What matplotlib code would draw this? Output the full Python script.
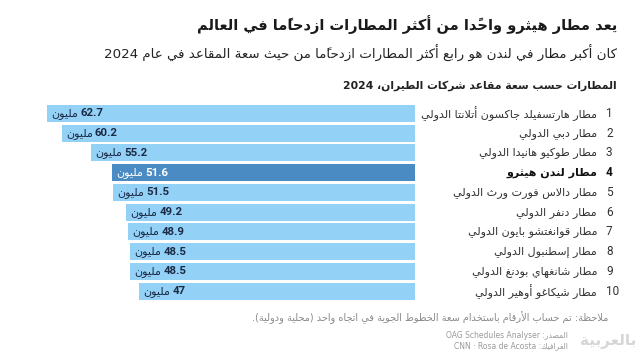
import re
import matplotlib
matplotlib.use('Agg')
import matplotlib.pyplot as plt
import matplotlib.transforms as mtransforms

plt.rcParams['font.family'] = ['DejaVu Sans']

# data
ranks = ['1', '2', '3', '4', '5', '6', '7', '8', '9', '10']
airports = ['مطار هارتسفيلد جاكسون أتلانتا الدولي', 'مطار دبي الدولي', 'مطار طوكيو هانيدا الدولي',
            'مطار لندن هيثرو', 'مطار دالاس فورت ورث الدولي', 'مطار دنفر الدولي',
            'مطار قوانغتشو بايون الدولي', 'مطار إسطنبول الدولي', 'مطار شانغهاي بودنغ الدولي',
            'مطار شيكاغو أوهير الدولي']
seats = [62.7, 60.2, 55.2, 51.6, 51.5, 49.2, 48.9, 48.5, 48.5, 47]
value_labels = ['62.7', '60.2', '55.2', '51.6', '51.5', '49.2', '48.9', '48.5', '48.5', '47']
highlight = 3

title = 'يعد مطار هيثرو واحدًا من أكثر المطارات ازدحامًا في العالم'
subtitle = 'كان أكبر مطار في لندن هو رابع أكثر المطارات ازدحامًا من حيث سعة المقاعد في عام 2024'
heading = 'المطارات حسب سعة مقاعد شركات الطيران، 2024'
note = 'ملاحظة: تم حساب الأرقام باستخدام سعة الخطوط الجوية في اتجاه واحد (محلية ودولية).'
source1 = 'المصدر: OAG Schedules Analyser'
source2 = 'الغرافيك: CNN · Rosa de Acosta'
unit = 'مليون'
logo = 'بالعربية'

# arabic shaping (no raqm in matplotlib): letter -> (first presentation form, number of forms)
AR = {'ء': (0xFE80, 1), 'آ': (0xFE81, 2), 'أ': (0xFE83, 2), 'ؤ': (0xFE85, 2), 'إ': (0xFE87, 2),
      'ئ': (0xFE89, 4), 'ا': (0xFE8D, 2), 'ب': (0xFE8F, 4), 'ة': (0xFE93, 2), 'ت': (0xFE95, 4),
      'ث': (0xFE99, 4), 'ج': (0xFE9D, 4), 'ح': (0xFEA1, 4), 'خ': (0xFEA5, 4), 'د': (0xFEA9, 2),
      'ذ': (0xFEAB, 2), 'ر': (0xFEAD, 2), 'ز': (0xFEAF, 2), 'س': (0xFEB1, 4), 'ش': (0xFEB5, 4),
      'ص': (0xFEB9, 4), 'ض': (0xFEBD, 4), 'ط': (0xFEC1, 4), 'ظ': (0xFEC5, 4), 'ع': (0xFEC9, 4),
      'غ': (0xFECD, 4), 'ف': (0xFED1, 4), 'ق': (0xFED5, 4), 'ك': (0xFED9, 4), 'ل': (0xFEDD, 4),
      'م': (0xFEE1, 4), 'ن': (0xFEE5, 4), 'ه': (0xFEE9, 4), 'و': (0xFEED, 2), 'ى': (0xFEEF, 2),
      'ي': (0xFEF1, 4)}
LAM_ALEF = {'آ': 0xFEF5, 'أ': 0xFEF7, 'إ': 0xFEF9, 'ا': 0xFEFB}
MIRROR = {'(': ')', ')': '('}


def is_mark(c):
    return 0x064B <= ord(c) <= 0x0652


def ar(s):
    # build items: [base, start, n, marks]
    items = []
    i = 0
    while i < len(s):
        c = s[i]
        if is_mark(c) and items:
            items[-1][3] += c
            i += 1
            continue
        if c == 'ل' and i + 1 < len(s) and s[i + 1] in LAM_ALEF:
            items.append([c, LAM_ALEF[s[i + 1]], 2, ''])
            i += 2
            continue
        if c in AR:
            items.append([c, AR[c][0], AR[c][1], ''])
        else:
            items.append([c, None, 0, ''])
        i += 1
    glyphs = []
    for k, (c, start, n, marks) in enumerate(items):
        if start is None:
            glyphs.append(MIRROR.get(c, c) + marks)
            continue
        prev = k > 0 and items[k - 1][2] == 4
        nxt = k + 1 < len(items) and items[k + 1][2] >= 2
        if n == 1:
            g = start
        elif n == 2:
            g = start + 1 if prev else start
        else:
            if prev and nxt:
                g = start + 3
            elif prev:
                g = start + 1
            elif nxt:
                g = start + 2
            else:
                g = start
        glyphs.append(chr(g) + marks)
    vis = ''.join(glyphs[::-1])
    return re.sub(r'[A-Za-z0-9][A-Za-z0-9 .·\-]*[A-Za-z0-9]|[A-Za-z0-9]',
                  lambda m: m.group(0)[::-1], vis)


light = '#93d1f7'
dark = '#4a8bc3'

fig = plt.figure(figsize=(6.4, 3.56), dpi=100)
fig.patch.set_facecolor('white')
ax = fig.add_axes([40 / 640, 1 - 300.9 / 356, 375 / 640, 197.3 / 356])

y = list(range(len(seats)))
colors = [dark if i == highlight else light for i in y]
ax.barh(y, seats, height=0.86, color=colors)
ax.set_xlim(63.9, 0)
ax.set_ylim(9.5, -0.5)
ax.axis('off')

for i, v in enumerate(seats):
    tc = 'white' if i == highlight else '#1b2a45'
    w = ax.annotate(ar(unit), xy=(v, i), xytext=(3, 0), textcoords='offset points',
                    ha='left', va='center', fontsize=8, color=tc)
    ax.annotate(value_labels[i], xy=(1, 0.5), xycoords=w, xytext=(1.5, 0),
                textcoords='offset points', ha='left', va='center',
                fontsize=8.2, fontweight='bold', family='Roboto', color=tc)

tr = mtransforms.blended_transform_factory(fig.transFigure, ax.transData)
for i, name in enumerate(airports):
    bold = 'bold' if i == highlight else 'normal'
    col = '#111111' if i == highlight else '#333333'
    ax.text(597 / 640, i, ar(name), transform=tr, ha='right', va='center',
            fontsize=8, fontweight=bold, color=col)
    ax.text(606 / 640, i, ranks[i], transform=tr, ha='left', va='center',
            fontsize=8.5, fontweight=bold, family='Roboto', color=col)

fig.text(617 / 640, 1 - 25 / 356, ar(title), ha='right', va='center', fontsize=10.5,
         fontweight='bold', color='#1a1a1a')
fig.text(617 / 640, 1 - 53 / 356, ar(subtitle), ha='right', va='center', fontsize=9.6,
         color='#222222')
fig.text(617 / 640, 1 - 86 / 356, ar(heading), ha='right', va='center', fontsize=7.8,
         fontweight='bold', color='#222222')
fig.text(608 / 640, 1 - 318 / 356, ar(note), ha='right', va='center', fontsize=7,
         color='#8a8a8a')
fig.text(568 / 640, 1 - 335 / 356, ar(source1), ha='right', va='center', fontsize=5.5,
         color='#9a9a9a')
fig.text(568 / 640, 1 - 346 / 356, ar(source2), ha='right', va='center', fontsize=5.5,
         color='#9a9a9a')
fig.text(636 / 640, 1 - 340 / 356, ar(logo), ha='right', va='center', fontsize=11,
         fontweight='bold', color='#d6d6d6')

fig.savefig('out.png', dpi=100)
